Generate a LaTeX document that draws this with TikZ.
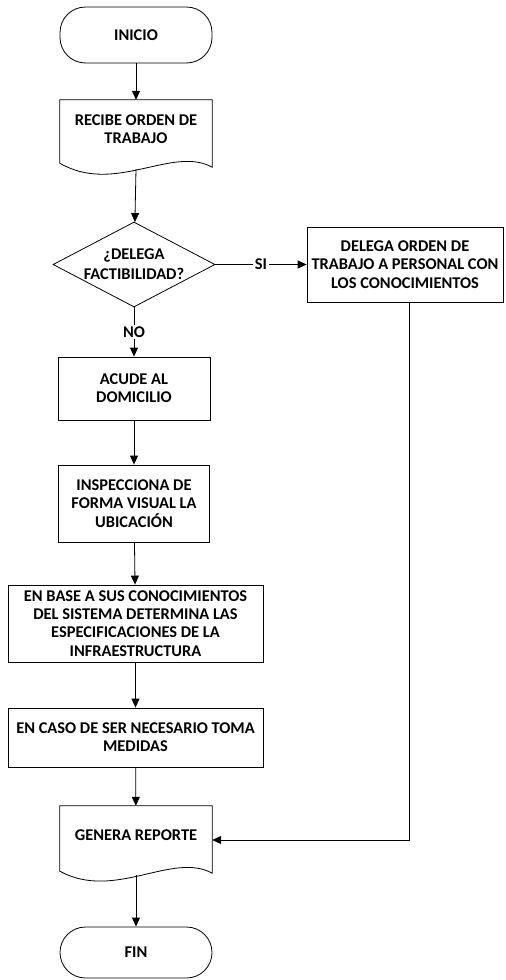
\documentclass[tikz,border=0pt]{standalone}
\usepackage{fontspec}
\setmainfont{Carlito}
\usetikzlibrary{arrows.meta,shapes.geometric,calc}

\begin{document}
\begin{tikzpicture}[x=1pt,y=1pt,yscale=-1,
  every node/.style={font=\fontsize{16.4}{18.3}\selectfont\bfseries,align=center,inner sep=0pt},
  line/.style={draw=black,line width=0.8pt},
  flecha/.style={line,-{Triangle[length=9pt,width=8pt]}},
  term/.style={line,rectangle,rounded corners=25.5pt,minimum width=152pt},
  proc/.style={line,rectangle},
  docu/.style={rectangle,minimum width=152pt,minimum height=58pt},
  decis/.style={line,diamond,aspect=1.9,minimum width=162pt,minimum height=85pt},
  rotulo/.style={fill=white,inner sep=2pt}]
\useasboundingbox (0,0) rectangle (506,980);

%Shape: Terminal
\node [term,minimum height=56pt] (inicio) at (136,35) {INICIO};
%Shape: Document
\node [docu] (recibe) at (136,129) {RECIBE ORDEN DE\\TRABAJO};
\draw [line] (recibe.north west) -- (recibe.north east) -- ($(recibe.south east)+(0,9)$)
  .. controls ($(recibe.south east)+(-40,-13)$) and ($(recibe.south west)+(55,37)$) .. ($(recibe.south west)+(0,5)$) -- cycle ;
%Shape: Diamond
\node [decis] (factib) at (134,264.5) {¿DELEGA\\[1.5pt]FACTIBILIDAD?};
%Shape: Rectangle
\node [proc,minimum width=196pt,minimum height=75pt] (delega) at (405,264.5) {DELEGA ORDEN DE\\TRABAJO A PERSONAL CON\\LOS CONOCIMIENTOS};
\node [proc,minimum width=152pt,minimum height=63pt] (acude) at (134,388.5) {ACUDE AL\\DOMICILIO};
\node [proc,minimum width=151pt,minimum height=77pt] (inspec) at (134,503.5) {INSPECCIONA DE\\FORMA VISUAL LA\\UBICACIÓN};
\node [proc,minimum width=255pt,minimum height=77pt] (base) at (135.5,623.5) {EN BASE A SUS CONOCIMIENTOS\\DEL SISTEMA DETERMINA LAS\\ESPECIFICACIONES DE LA\\INFRAESTRUCTURA};
\node [proc,minimum width=255pt,minimum height=59pt] (caso) at (135.5,737.5) {EN CASO DE SER NECESARIO TOMA\\MEDIDAS};
%Shape: Document
\node [docu] (genera) at (136,835) {GENERA REPORTE};
\draw [line] (genera.north west) -- (genera.north east) -- ($(genera.south east)+(0,9)$)
  .. controls ($(genera.south east)+(-40,-13)$) and ($(genera.south west)+(55,37)$) .. ($(genera.south west)+(0,7)$) -- cycle ;
%Shape: Terminal
\node [term,minimum height=51pt] (fin) at (136,952.5) {FIN};

%Straight Lines
\draw [flecha] (inicio) -- (recibe);
\draw [flecha] ($(recibe.south)+(0,11)$) -- (factib);
\draw [flecha] (factib) -- node [rotulo] {SI} (delega);
\draw [flecha] (factib) -- node [rotulo] {NO} (acude);
\draw [flecha] (acude) -- (inspec);
\draw [flecha] (inspec) -- (base);
\draw [flecha] (base) -- (caso);
\draw [flecha] (caso) -- (genera);
\draw [flecha] ($(delega.south)+(4,0)$) |- ($(genera.east)+(0,5)$);
\draw [flecha] ($(genera.south)+(0,11)$) -- (fin);

\end{tikzpicture}
\end{document}
